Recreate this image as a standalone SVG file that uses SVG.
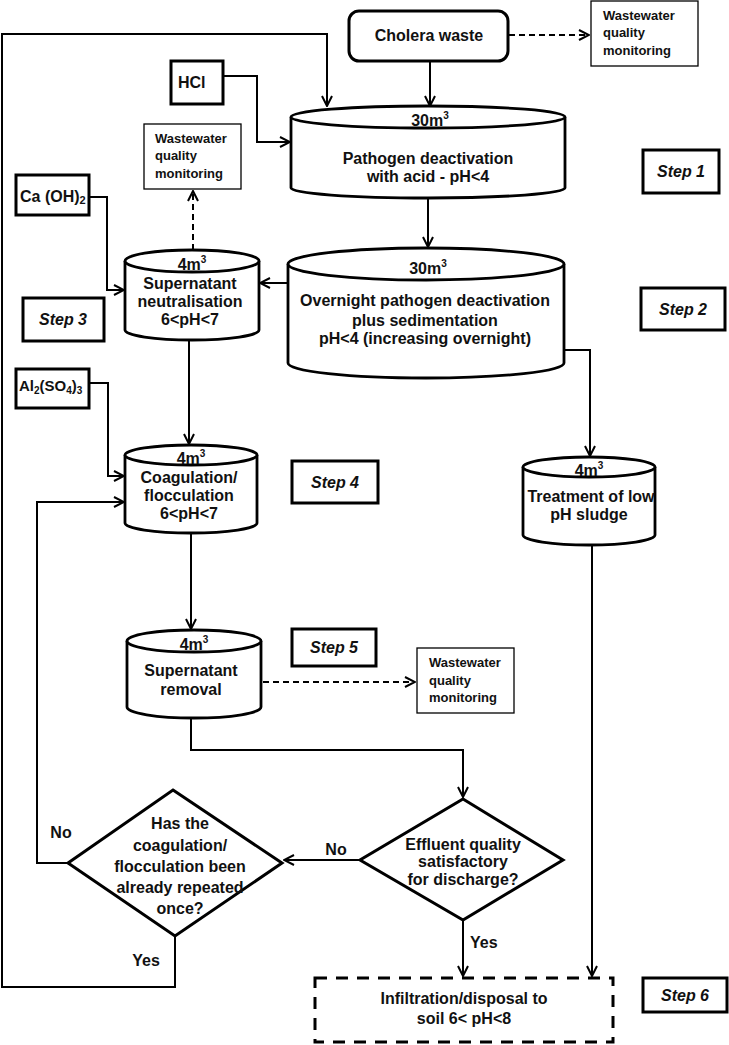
<svg xmlns="http://www.w3.org/2000/svg" width="729" height="1045" viewBox="0 0 729 1045">
<style>
text{font-family:"Liberation Sans",Arial,sans-serif;font-weight:bold;fill:#111}
.t{font-size:16px;text-anchor:middle}
.w{font-size:13px}
.s{font-size:16px;font-style:italic;text-anchor:middle}
.box{fill:#fff;stroke:#000;stroke-width:3}
.thin{fill:#fff;stroke:#000;stroke-width:1.3}
.cyl{fill:#fff;stroke:#000;stroke-width:2.8}
.c{fill:none;stroke:#000;stroke-width:2}
.d{fill:none;stroke:#000;stroke-width:2;stroke-dasharray:6,4}
.sup{font-size:10px}
</style>
<defs>
<marker id="a" viewBox="0 0 12 12" refX="11" refY="6" markerWidth="12" markerHeight="12" markerUnits="userSpaceOnUse" orient="auto">
<path d="M1,1 L11,6 L1,11" fill="none" stroke="#000" stroke-width="2"/>
</marker>
</defs>
<rect width="729" height="1045" fill="#fff"/>
<g id="connectors">
<path class="c" d="M430,61 V106" marker-end="url(#a)"/>
<path class="d" d="M509,35 H589" marker-end="url(#a)"/>
<path class="c" d="M175,936 V987 H2 V34 H327 V106" marker-end="url(#a)"/>
<path class="c" d="M223,76 H257 V142 H290" marker-end="url(#a)"/>
<path class="c" d="M428,198 V247" marker-end="url(#a)"/>
<path class="c" d="M288,283 H260" marker-end="url(#a)"/>
<path class="d" d="M193,250 V191" marker-end="url(#a)"/>
<path class="c" d="M90,197 H107 V290 H124" marker-end="url(#a)"/>
<path class="c" d="M189,340 V444" marker-end="url(#a)"/>
<path class="c" d="M564,350 H590 V456" marker-end="url(#a)"/>
<path class="c" d="M90,383 H108 V476 H124" marker-end="url(#a)"/>
<path class="c" d="M191,533 V629" marker-end="url(#a)"/>
<path class="d" d="M263,682 H415" marker-end="url(#a)"/>
<path class="c" d="M191,718 V750 H463 V797" marker-end="url(#a)"/>
<path class="c" d="M360,860 H284" marker-end="url(#a)"/>
<path class="c" d="M463,920 V976" marker-end="url(#a)"/>
<path class="c" d="M592,545 V976" marker-end="url(#a)"/>
<path class="c" d="M68,863 H37 V502 H124" marker-end="url(#a)"/>
<text x="61" y="838" style="font-size:16px" text-anchor="middle">No</text>
<text x="146" y="966" style="font-size:16px" text-anchor="middle">Yes</text>
<text x="336" y="855" style="font-size:16px" text-anchor="middle">No</text>
<text x="470" y="948" style="font-size:16px">Yes</text>
</g>
<g id="cholera">
<rect class="box" x="349" y="11" width="159" height="50" rx="10"/>
<text class="t" x="429" y="41">Cholera waste</text>
</g>
<g id="ww1">
<rect class="thin" x="591" y="1" width="107" height="65"/>
<text class="w" x="603" y="20">Wastewater</text>
<text class="w" x="603" y="37">quality</text>
<text class="w" x="603" y="55">monitoring</text>
</g>
<g id="hcl">
<rect class="box" x="171" y="61" width="52" height="43"/>
<text x="178" y="88" style="font-size:16px">HCl</text>
</g>
<g id="cyl1">
<path class="cyl" d="M291,117 V188 A137,10 0 0 0 565,188 V117"/>
<ellipse class="cyl" cx="428" cy="117" rx="137" ry="11"/>
<text class="t" x="430" y="126">30m<tspan class="sup" dy="-7">3</tspan></text>
<text class="t" x="428" y="164">Pathogen deactivation</text>
<text class="t" x="428" y="182">with acid - pH&lt;4</text>
</g>
<g id="step1">
<rect class="box" x="643" y="150" width="76" height="43"/>
<text class="s" x="681" y="177">Step 1</text>
</g>
<g id="ww2">
<rect class="thin" x="144" y="124" width="97" height="65"/>
<text class="w" x="155" y="143">Wastewater</text>
<text class="w" x="155" y="160">quality</text>
<text class="w" x="155" y="178">monitoring</text>
</g>
<g id="caoh">
<rect class="box" x="16" y="175" width="73" height="40"/>
<text x="20" y="202" style="font-size:16px">Ca (OH)<tspan style="font-size:11px" dy="2">2</tspan></text>
</g>
<g id="neutral">
<path class="cyl" d="M125,261 V330 A67,10 0 0 0 259,330 V261"/>
<ellipse class="cyl" cx="192" cy="261" rx="67" ry="11"/>
<text class="t" x="192" y="270">4m<tspan class="sup" dy="-7">3</tspan></text>
<text class="t" x="190" y="289">Supernatant</text>
<text class="t" x="190" y="307">neutralisation</text>
<text class="t" x="190" y="325">6&lt;pH&lt;7</text>
</g>
<g id="step3">
<rect class="box" x="23" y="298" width="81" height="43"/>
<text class="s" x="63" y="325">Step 3</text>
</g>
<g id="cyl2">
<path class="cyl" d="M288,264 V363 A138,15 0 0 0 564,363 V264"/>
<ellipse class="cyl" cx="426" cy="264" rx="138" ry="16"/>
<text class="t" x="428" y="274">30m<tspan class="sup" dy="-7">3</tspan></text>
<text class="t" x="425" y="306">Overnight pathogen deactivation</text>
<text class="t" x="425" y="326">plus sedimentation</text>
<text class="t" x="425" y="344">pH&lt;4 (increasing overnight)</text>
</g>
<g id="step2">
<rect class="box" x="641" y="288" width="84" height="42"/>
<text class="s" x="683" y="315">Step 2</text>
</g>
<g id="al">
<rect class="box" x="16" y="369" width="73" height="39"/>
<text x="19" y="391" style="font-size:15px">Al<tspan style="font-size:10px" dy="3">2</tspan><tspan dy="-3">(SO</tspan><tspan style="font-size:10px" dy="3">4</tspan><tspan dy="-3">)</tspan><tspan style="font-size:10px" dy="3">3</tspan></text>
</g>
<g id="coag">
<path class="cyl" d="M125,455 V523 A66,10 0 0 0 257,523 V455"/>
<ellipse class="cyl" cx="191" cy="455" rx="66" ry="10"/>
<text class="t" x="191" y="464">4m<tspan class="sup" dy="-7">3</tspan></text>
<text class="t" x="189" y="483">Coagulation/</text>
<text class="t" x="189" y="501">flocculation</text>
<text class="t" x="189" y="519">6&lt;pH&lt;7</text>
</g>
<g id="step4">
<rect class="box" x="292" y="461" width="86" height="42"/>
<text class="s" x="335" y="488">Step 4</text>
</g>
<g id="treatment">
<path class="cyl" d="M523,467 V535 A66,10 0 0 0 655,535 V467"/>
<ellipse class="cyl" cx="589" cy="467" rx="66" ry="10"/>
<text class="t" x="589" y="476">4m<tspan class="sup" dy="-7">3</tspan></text>
<text class="t" x="591" y="502">Treatment of low</text>
<text class="t" x="589" y="520">pH sludge</text>
</g>
<g id="removal">
<path class="cyl" d="M127,641 V707 A67,11 0 0 0 261,707 V641"/>
<ellipse class="cyl" cx="194" cy="641" rx="67" ry="11"/>
<text class="t" x="194" y="650">4m<tspan class="sup" dy="-7">3</tspan></text>
<text class="t" x="191" y="676">Supernatant</text>
<text class="t" x="191" y="695">removal</text>
</g>
<g id="step5">
<rect class="box" x="292" y="629" width="84" height="37"/>
<text class="s" x="334" y="653">Step 5</text>
</g>
<g id="ww3">
<rect class="thin" x="417" y="648" width="97" height="65"/>
<text class="w" x="429" y="667">Wastewater</text>
<text class="w" x="429" y="685">quality</text>
<text class="w" x="429" y="702">monitoring</text>
</g>
<g id="effluent">
<polygon class="box" points="463,799 563,860 463,920 360,860"/>
<text class="t" x="463" y="850">Effluent quality</text>
<text class="t" x="463" y="867">satisfactory</text>
<text class="t" x="463" y="885">for discharge?</text>
</g>
<g id="repeated">
<polygon class="box" points="173,790 282,863 175,936 68,863" style="fill:none"/>
<text class="t" x="180" y="829">Has the</text>
<text class="t" x="180" y="851">coagulation/</text>
<text class="t" x="180" y="872">flocculation been</text>
<text class="t" x="180" y="893">already repeated</text>
<text class="t" x="180" y="914">once?</text>
</g>
<g id="infiltration">
<rect x="315" y="978" width="298" height="64" fill="#fff" stroke="#000" stroke-width="3" stroke-dasharray="12,9"/>
<text class="t" x="464" y="1004">Infiltration/disposal to</text>
<text class="t" x="464" y="1024">soil 6&lt; pH&lt;8</text>
</g>
<g id="step6">
<rect class="box" x="643" y="978" width="84" height="34"/>
<text class="s" x="685" y="1001">Step 6</text>
</g>
</svg>
